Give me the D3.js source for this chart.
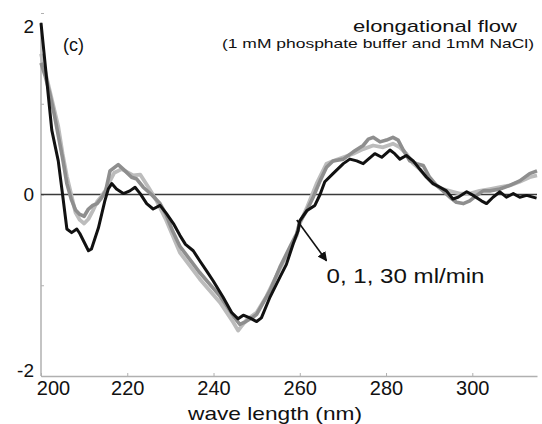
<!DOCTYPE html>
<html>
<head>
<meta charset="utf-8">
<script src="https://cdn.jsdelivr.net/npm/d3@7"></script>
<style>
  body { margin: 0; background: #fff; }
  svg { display: block; font-family: "Liberation Sans", Arial, sans-serif; }
</style>
</head>
<body>
<svg width="542" height="424"></svg>
<script>
// black trace (30 ml/min)
var black_nm = [200, 202.5, 204, 205, 206, 207.1, 208.3, 209, 211, 211.7, 213.3, 214.8, 215.6, 216.4, 217.5, 219.1, 220.6, 221.8, 223, 224.5, 226, 227.6, 229.1, 230.7, 232.2, 233.5, 235.3, 236.8, 238.5, 239.9, 242.2, 244.2, 245.7, 246.9, 248.4, 250, 251.1, 253.1, 255.4, 256.9, 258.5, 259.6, 260, 261.6, 263.5, 264.7, 265.8, 267.7, 270.1, 271.6, 273.2, 274.7, 275.9, 277.4, 279, 280.9, 282, 283.2, 284.7, 286.3, 287.8, 289.4, 290.9, 292.5, 294, 295.5, 296.7, 298.7, 300.2, 302.1, 303.3, 304.8, 306.4, 307.9, 309.5, 311, 312.6, 314.9];
var black_cd = [1.89, 0.71, 0.37, 0, -0.38, -0.42, -0.38, -0.43, -0.62, -0.6, -0.37, -0.07, 0.06, 0.12, 0.06, 0.01, 0.04, 0.08, 0.01, -0.1, -0.16, -0.12, -0.21, -0.32, -0.45, -0.55, -0.62, -0.73, -0.85, -0.95, -1.13, -1.3, -1.37, -1.33, -1.36, -1.4, -1.36, -1.13, -0.91, -0.77, -0.54, -0.4, -0.29, -0.18, -0.12, 0, 0.14, 0.23, 0.34, 0.39, 0.37, 0.34, 0.39, 0.45, 0.41, 0.49, 0.45, 0.39, 0.43, 0.37, 0.28, 0.19, 0.12, 0.08, 0.04, -0.05, -0.03, 0.03, -0.01, -0.07, -0.1, -0.03, 0.03, -0.03, 0.01, -0.03, -0.01, -0.04];

// medium grey trace
var mid_nm = [200, 201, 202, 203, 204, 205, 206, 207, 208, 209, 210, 211, 212, 213, 214, 215, 216, 217.9, 219.5, 221, 222.2, 223.7, 225.6, 227.6, 229, 230.5, 232.2, 236.8, 241.5, 244.6, 246.1, 247.5, 249.2, 250, 253.1, 255.4, 257.7, 259.3, 260, 261.6, 263.1, 264.7, 266.2, 267.7, 270.1, 272.4, 274.7, 275.9, 277, 278.6, 280.1, 281.6, 282.8, 284, 285.5, 287.1, 288.6, 290.1, 291.7, 293.2, 294.8, 296.3, 297.9, 299.4, 301, 302.5, 304.1, 306.4, 308.7, 311, 313.3, 315];
var mid_cd = [1.45, 1.3, 1.12, 0.9, 0.65, 0.4, 0.12, -0.05, -0.17, -0.22, -0.24, -0.16, -0.12, -0.1, -0.04, 0.04, 0.26, 0.33, 0.26, 0.19, 0.17, 0.08, 0, -0.1, -0.22, -0.4, -0.57, -0.86, -1.12, -1.34, -1.43, -1.4, -1.35, -1.32, -1.06, -0.8, -0.58, -0.43, -0.3, -0.18, -0.03, 0.15, 0.3, 0.37, 0.39, 0.47, 0.54, 0.61, 0.63, 0.58, 0.6, 0.63, 0.6, 0.49, 0.37, 0.34, 0.32, 0.19, 0.1, 0.04, -0.03, -0.085, -0.1, -0.07, -0.01, 0.04, 0.04, 0.06, 0.1, 0.15, 0.23, 0.26];

// light grey trace
var light_nm = [200, 202, 204, 205, 206, 207, 208, 209, 210, 211, 212, 213, 214, 215, 216, 217, 218.7, 221.4, 223, 224.9, 226.8, 229, 230.5, 232.2, 236.8, 241.5, 244.6, 245.7, 246.5, 247.7, 250, 252.3, 255.4, 257.7, 259.3, 260, 261.6, 263.9, 266.2, 267.7, 270.1, 272.4, 274.7, 277, 279.3, 281.6, 283.2, 284.7, 286.3, 287.8, 289.4, 290.9, 293.2, 295.5, 297.1, 299.4, 301.7, 304.1, 306.4, 308.7, 311, 313.3, 315];
var light_cd = [1.55, 1.15, 0.75, 0.45, 0.2, 0, -0.2, -0.28, -0.32, -0.27, -0.18, -0.08, -0.02, 0.05, 0.15, 0.24, 0.28, 0.21, 0.22, 0.08, -0.07, -0.28, -0.45, -0.64, -0.93, -1.19, -1.41, -1.5, -1.45, -1.38, -1.3, -1.12, -0.82, -0.6, -0.45, -0.32, -0.15, 0.12, 0.34, 0.37, 0.41, 0.45, 0.5, 0.54, 0.52, 0.56, 0.52, 0.45, 0.34, 0.28, 0.19, 0.12, 0.06, 0.03, 0.01, 0.01, 0.04, 0.06, 0.08, 0.1, 0.14, 0.19, 0.21];

var x_ticks = [200, 220, 240, 260, 280, 300];
var y_ticks = [-2, -1, 0, 1, 2];
var y_labels = {"-2": "-2", "0": "0", "2": "2"};

var svg = d3.select("svg");

var x = d3.scaleLinear().domain([200, 315]).range([41, 537]);
var y = d3.scaleLinear().domain([-2, 2]).range([376, 13]);

// bottom axis, light grey, ticks pointing in
var x_axis = svg.append("g")
  .attr("transform", "translate(0," + y(-2) + ")")
  .call(d3.axisBottom(x).tickValues(x_ticks).tickSize(-3).tickPadding(6).tickSizeOuter(0));
x_axis.select(".domain").attr("stroke", "#b0b0b0").attr("stroke-width", 1.5);
x_axis.selectAll(".tick line").attr("stroke", "#b0b0b0");
x_axis.selectAll(".tick text")
  .attr("font-size", 20).attr("fill", "#111").attr("y", 5)
  .attr("dx", function(d) { return d == 200 ? 12 : 0; });

// left axis
var y_axis = svg.append("g")
  .attr("transform", "translate(" + x(200) + ",0)")
  .call(d3.axisLeft(y).tickValues(y_ticks).tickSize(-3).tickPadding(7).tickSizeOuter(0)
    .tickFormat(function(d) { return y_labels[d] || ""; }));
y_axis.select(".domain").remove();
y_axis.append("line")
  .attr("y1", y(1.9)).attr("y2", y(-2))
  .attr("stroke", "#b0b0b0").attr("stroke-width", 1.5);
y_axis.selectAll(".tick line").attr("stroke", "#b0b0b0");
y_axis.selectAll(".tick text")
  .attr("font-size", 19).attr("fill", "#111")
  .attr("dy", function(d) { return d == 2 ? "1.05em" : (d == -2 ? "0.05em" : "0.32em"); });

// zero line
svg.append("line")
  .attr("x1", x(200)).attr("x2", x(315))
  .attr("y1", y(0)).attr("y2", y(0))
  .attr("stroke", "#3a3a3a").attr("stroke-width", 1.5);

var line = d3.line()
  .x(function(d) { return x(d[0]); })
  .y(function(d) { return y(d[1]); });

var series = [
  {nm: light_nm, cd: light_cd, color: "#bcbcbc", width: 3.8},
  {nm: mid_nm, cd: mid_cd, color: "#8e8e8e", width: 3.6},
  {nm: black_nm, cd: black_cd, color: "#111111", width: 3}
];

series.forEach(function(s) {
  svg.append("path")
    .datum(d3.zip(s.nm, s.cd))
    .attr("d", line)
    .attr("fill", "none")
    .attr("stroke", s.color)
    .attr("stroke-width", s.width)
    .attr("stroke-linejoin", "round");
});

// arrow annotation
var arrow_from = [259.3, -0.28];
var arrow_to = [266.2, -0.73];

svg.append("defs").append("marker")
  .attr("id", "head")
  .attr("viewBox", "0 0 10 10")
  .attr("refX", 9).attr("refY", 5)
  .attr("markerWidth", 6).attr("markerHeight", 6)
  .attr("markerUnits", "strokeWidth")
  .attr("orient", "auto")
  .append("path").attr("d", "M0,0L10,5L0,10Z").attr("fill", "#111");

svg.append("line")
  .attr("x1", x(arrow_from[0])).attr("y1", y(arrow_from[1]))
  .attr("x2", x(arrow_to[0])).attr("y2", y(arrow_to[1]))
  .attr("stroke", "#111").attr("stroke-width", 1.6)
  .attr("marker-end", "url(#head)");

svg.append("text")
  .attr("x", x(arrow_to[0])).attr("y", y(arrow_to[1]) + 22)
  .attr("font-size", 21).attr("fill", "#111")
  .attr("textLength", 158).attr("lengthAdjust", "spacingAndGlyphs")
  .text("0, 1, 30 ml/min");

// titles
svg.append("text")
  .attr("x", 63).attr("y", 51)
  .attr("font-size", 18).attr("fill", "#111")
  .text("(c)");

svg.append("text")
  .attr("x", 353).attr("y", 32)
  .attr("font-size", 17).attr("fill", "#111")
  .attr("textLength", 164).attr("lengthAdjust", "spacingAndGlyphs")
  .text("elongational flow");

svg.append("text")
  .attr("x", 222).attr("y", 48)
  .attr("font-size", 13).attr("fill", "#111")
  .attr("textLength", 312).attr("lengthAdjust", "spacingAndGlyphs")
  .text("(1 mM phosphate buffer and 1mM NaCl)");

svg.append("text")
  .attr("x", 188).attr("y", 420)
  .attr("font-size", 19).attr("fill", "#111")
  .attr("textLength", 174).attr("lengthAdjust", "spacingAndGlyphs")
  .text("wave length (nm)");
</script>
</body>
</html>
